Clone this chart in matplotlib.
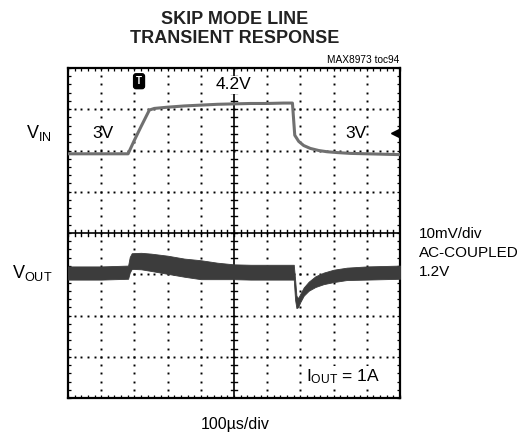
import numpy as np
import matplotlib
matplotlib.use("Agg")
import matplotlib.pyplot as plt

# -------- CONFIG --------
W, H = 526, 437
FONT = ["Liberation Sans", "DejaVu Sans"]
plt.rcParams["font.family"] = FONT
plt.rcParams["mathtext.fontset"] = "custom"
plt.rcParams["mathtext.rm"] = FONT[0]

# scope channel settings (div positions)
VIN_SCALE = 1.0      # V/div
VIN_REF = 3.0        # V shown at VIN_POS
VIN_POS = 1.92       # div
VOUT_SCALE = 10.0    # mV/div
VOUT_POS = -0.97     # div (AC-coupled zero)
# -------------------------

# VIN trace (time in us, volts)
vin_t = [0, 100, 181, 200, 220, 245, 260, 300, 350, 400, 450, 500, 550,
         600, 650, 676, 683, 695, 710, 730, 755, 780, 810, 850, 900, 1000]
vin_v = [3.00, 3.00, 3.00, 3.33, 3.66, 4.06, 4.10, 4.13, 4.16, 4.18, 4.20,
         4.21, 4.22, 4.22, 4.23, 4.23, 3.45, 3.30, 3.20, 3.13, 3.08, 3.05,
         3.03, 3.01, 3.00, 2.98]

# VOUT trace (time in us, mV deviation, noise half-width in mV)
vout_t = [0, 100, 181, 186, 192, 220, 250, 300, 350, 400, 450, 500, 550,
          600, 650, 680, 684, 688, 693, 700, 710, 725, 745, 770, 800, 840,
          900, 1000]
vout_mv = [0.0, 0.0, 0.2, 2.0, 2.9, 2.9, 2.6, 2.0, 1.3, 0.8, 0.5, 0.3, 0.2,
           0.2, 0.2, 0.2, -4.0, -7.0, -7.2, -6.0, -4.5, -3.2, -2.1, -1.3,
           -0.7, -0.2, 0.0, 0.2]
vout_hw = [1.6, 1.6, 1.6, 1.9, 1.9, 2.0, 2.1, 2.2, 2.2, 2.3, 2.0, 1.8, 1.8,
           1.8, 1.8, 1.8, 2.5, 1.5, 1.1, 1.0, 1.0, 1.1, 1.3, 1.4, 1.5, 1.5,
           1.6, 1.6]


def px(x, y):
    return x / W, 1 - y / H


def main():
    fig = plt.figure(figsize=(W / 100, H / 100), dpi=100)
    x0, y1 = px(68, 68)
    x1, y0 = px(400, 398)
    ax = fig.add_axes([x0, y0, x1 - x0, y1 - y0])
    ax.set_xlim(0, 1000)
    ax.set_ylim(-4, 4)

    # dotted graticule
    for gx in range(100, 1000, 100):
        if gx == 500:
            continue
        ys = np.arange(-4, 4.01, 0.2)
        ax.plot(np.full_like(ys, gx), ys, ls="none", marker="s", ms=1.4,
                mec="none", color="black", zorder=1)
    for gy in range(-3, 4):
        if gy == 0:
            continue
        xs = np.arange(0, 1000.1, 20)
        ax.plot(xs, np.full_like(xs, gy), ls="none", marker="s", ms=1.4,
                mec="none", color="black", zorder=1)

    # center crosshair with minor ticks
    ax.axhline(0, color="black", lw=1.2, zorder=1)
    ax.axvline(500, color="black", lw=1.2, zorder=1)
    for tx in np.arange(0, 1000.1, 20):
        ax.plot([tx, tx], [-0.08, 0.08], color="black", lw=1.0, zorder=1)
    for ty in np.arange(-4, 4.01, 0.2):
        ax.plot([491, 509], [ty, ty], color="black", lw=1.0, zorder=1)

    # border ticks
    ax.set_xticks(np.arange(0, 1001, 100))
    ax.set_xticks(np.arange(0, 1001, 20), minor=True)
    ax.set_yticks(np.arange(-4, 5, 1))
    ax.set_yticks(np.arange(-4, 4.01, 0.2), minor=True)
    ax.tick_params(which="both", direction="in", top=True, right=True,
                   length=2.5, width=0.9, labelbottom=False, labelleft=False)
    for sp in ax.spines.values():
        sp.set_linewidth(1.6)

    # traces
    vin_div = (np.array(vin_v) - VIN_REF) / VIN_SCALE + VIN_POS
    ax.plot(vin_t, vin_div, color="#707070", lw=2.2, zorder=3,
            solid_joinstyle="round")

    vout_c = np.array(vout_mv) / VOUT_SCALE + VOUT_POS
    vout_w = np.array(vout_hw) / VOUT_SCALE
    ax.fill_between(vout_t, vout_c - vout_w, vout_c + vout_w,
                    color="#3c3c3c", lw=0.6, edgecolor="#3c3c3c", zorder=3)

    # markers and labels on the screen
    ax.text(214, 3.68, "T", color="white", fontsize=7, fontweight="bold",
            ha="center", va="center", zorder=5,
            bbox=dict(boxstyle="round,pad=0.25", fc="black", ec="black"))
    ax.plot(985, 2.42, marker="<", ms=6, color="black", zorder=5,
            clip_on=False)
    white = dict(boxstyle="square,pad=0.1", fc="white", ec="none")
    ax.text(500, 3.59, "4.2V", fontsize=12.5, ha="center", va="center",
            bbox=white, zorder=4)
    ax.text(105, 2.42, "3V", fontsize=12.5, ha="center", va="center")
    ax.text(867, 2.42, "3V", fontsize=12.5, ha="center", va="center")
    ax.text(940, -3.49, r"$\mathrm{I_{OUT}}$" + " = 1A", fontsize=12.5,
            ha="right", va="center", bbox=white, zorder=4)

    # outside labels
    fig.text(*px(235, 29), "SKIP MODE LINE\nTRANSIENT RESPONSE",
             fontsize=13, fontweight="bold", ha="center", va="center",
             linespacing=1.12, color="#222222")
    fig.text(*px(399, 60), "MAX8973 toc94", fontsize=7.3, ha="right",
             va="center")
    fig.text(*px(52, 133), r"$\mathrm{V_{IN}}$", fontsize=13, ha="right",
             va="center")
    fig.text(*px(52, 273), r"$\mathrm{V_{OUT}}$", fontsize=13, ha="right",
             va="center")
    fig.text(*px(419, 253), "10mV/div\nAC-COUPLED\n1.2V", fontsize=11,
             ha="left", va="center", linespacing=1.45)
    fig.text(*px(235, 424), "100\u00b5s/div", fontsize=11.5, ha="center",
             va="center")

    fig.savefig("out.png", dpi=100)
    plt.close(fig)


if __name__ == "__main__":
    main()
